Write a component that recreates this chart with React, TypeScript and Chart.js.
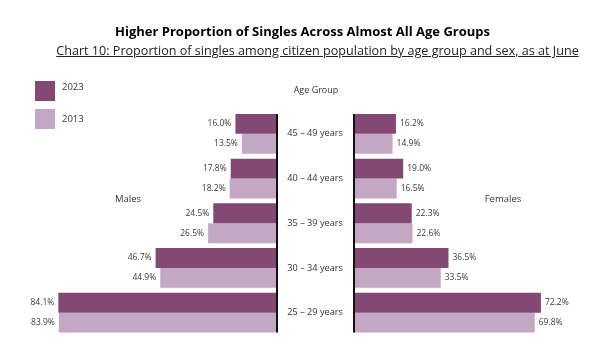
import React, { useEffect, useRef } from "react";
import { Chart, registerables } from "chart.js";

Chart.register(...registerables);

const categories = ["45 – 49 years", "40 – 44 years", "35 – 39 years", "30 – 34 years", "25 – 29 years"];
const males2023 = [16.0, 17.8, 24.5, 46.7, 84.1];
const males2013 = [13.5, 18.2, 26.5, 44.9, 83.9];
const females2023 = [16.2, 19.0, 22.3, 36.5, 72.2];
const females2013 = [14.9, 16.5, 22.6, 33.5, 69.8];
const seriesNames = ["2023", "2013"];

const DARK = "#844874";
const LIGHT = "#c4a7c2";
const FONT = "'Open Sans', sans-serif";
const MAXV = 90;

const labelPlugin = (side: "left" | "right") => ({
  id: "valLabels" + side,
  afterDatasetsDraw(chart: any) {
    const ctx = chart.ctx;
    ctx.save();
    // axis line spanning the bars
    const first = chart.getDatasetMeta(0).data[0];
    const lastMeta = chart.getDatasetMeta(chart.data.datasets.length - 1);
    const last = lastMeta.data[lastMeta.data.length - 1];
    const top = first.y - first.height / 2;
    const bottom = last.y + last.height / 2;
    const ax = side === "left" ? chart.chartArea.right : chart.chartArea.left;
    ctx.strokeStyle = "#111";
    ctx.lineWidth = 2;
    ctx.beginPath();
    ctx.moveTo(ax, top);
    ctx.lineTo(ax, bottom);
    ctx.stroke();

    ctx.font = `8.5px ${FONT}`;
    ctx.fillStyle = "#3a3a3a";
    ctx.textBaseline = "middle";
    chart.data.datasets.forEach((ds: any, di: number) => {
      const meta = chart.getDatasetMeta(di);
      meta.data.forEach((bar: any, i: number) => {
        const txt = Number(ds.data[i]).toFixed(1) + "%";
        if (side === "left") {
          ctx.textAlign = "right";
          ctx.fillText(txt, bar.x - 4, bar.y);
        } else {
          ctx.textAlign = "left";
          ctx.fillText(txt, bar.x + 4, bar.y);
        }
      });
    });
    ctx.restore();
  },
});

export default function App() {
  const leftRef = useRef<HTMLCanvasElement>(null);
  const rightRef = useRef<HTMLCanvasElement>(null);

  useEffect(() => {
    const common = (a: number[], b: number[]) => ({
      labels: categories,
      datasets: [
        { label: seriesNames[0], data: a, backgroundColor: DARK, categoryPercentage: 0.89, barPercentage: 1.0 },
        { label: seriesNames[1], data: b, backgroundColor: LIGHT, categoryPercentage: 0.89, barPercentage: 1.0 },
      ],
    });
    const left = new Chart(leftRef.current!, {
      type: "bar",
      data: common(males2023, males2013),
      options: {
        indexAxis: "y",
        animation: false,
        responsive: false,
        maintainAspectRatio: false,
        layout: { padding: { left: 43, right: 23, top: 111.5, bottom: 11 } },
        plugins: { legend: { display: false }, tooltip: { enabled: false } },
        scales: {
          x: { min: 0, max: MAXV, reverse: true, display: false },
          y: { display: false },
        },
      },
      plugins: [labelPlugin("left")],
    } as any);
    const right = new Chart(rightRef.current!, {
      type: "bar",
      data: common(females2023, females2013),
      options: {
        indexAxis: "y",
        animation: false,
        responsive: false,
        maintainAspectRatio: false,
        layout: { padding: { left: 0, right: 10, top: 111.5, bottom: 11 } },
        plugins: { legend: { display: false }, tooltip: { enabled: false } },
        scales: {
          x: { min: 0, max: MAXV, display: false },
          y: {
            position: "left",
            afterFit: (s: any) => {
              s.width = 74;
              s.paddingTop = 0;
              s.paddingBottom = 0;
            },
            ticks: { color: "#333", font: { family: FONT, size: 9.2 }, padding: 11 },
            grid: { display: false, drawTicks: false },
            border: { display: false },
          },
        },
      },
      plugins: [labelPlugin("right")],
    } as any);
    return () => {
      left.destroy();
      right.destroy();
    };
  }, []);

  const abs = (x: number, y: number, extra: React.CSSProperties = {}): React.CSSProperties => ({
    position: "absolute",
    left: x,
    top: y,
    ...extra,
  });

  return (
    <div style={{ position: "absolute", left: 0, top: 0, width: 597, height: 346, background: "#fff", fontFamily: FONT, overflow: "hidden" }}>
      <canvas ref={leftRef} width={300} height={346} style={abs(0, 0)} />
      <canvas ref={rightRef} width={317} height={346} style={abs(280, 0)} />
      <div style={abs(0, 22, { width: 605, textAlign: "center", fontWeight: 700, fontSize: 13, color: "#000", lineHeight: "19px" })}>
        Higher Proportion of Singles Across Almost All Age Groups
      </div>
      <div style={abs(0, 41, { width: 635, textAlign: "center", fontSize: 12.6, color: "#222", lineHeight: "19px", textDecoration: "underline" })}>
        Chart 10: Proportion of singles among citizen population by age group and sex, as at June
      </div>
      <div style={abs(35, 81, { width: 20, height: 20, background: DARK })} />
      <div style={abs(35, 109, { width: 20, height: 20, background: LIGHT })} />
      <div style={abs(62, 80, { fontSize: 9.5, color: "#333", lineHeight: "14px" })}>{seriesNames[0]}</div>
      <div style={abs(62, 112, { fontSize: 9.5, color: "#333", lineHeight: "14px" })}>{seriesNames[1]}</div>
      <div style={abs(266, 83, { width: 100, textAlign: "center", fontSize: 9, color: "#333", lineHeight: "14px" })}>Age Group</div>
      <div style={abs(78, 192, { width: 100, textAlign: "center", fontSize: 9.5, color: "#333", lineHeight: "14px" })}>Males</div>
      <div style={abs(453, 192, { width: 100, textAlign: "center", fontSize: 9.5, color: "#333", lineHeight: "14px" })}>Females</div>
    </div>
  );
}
